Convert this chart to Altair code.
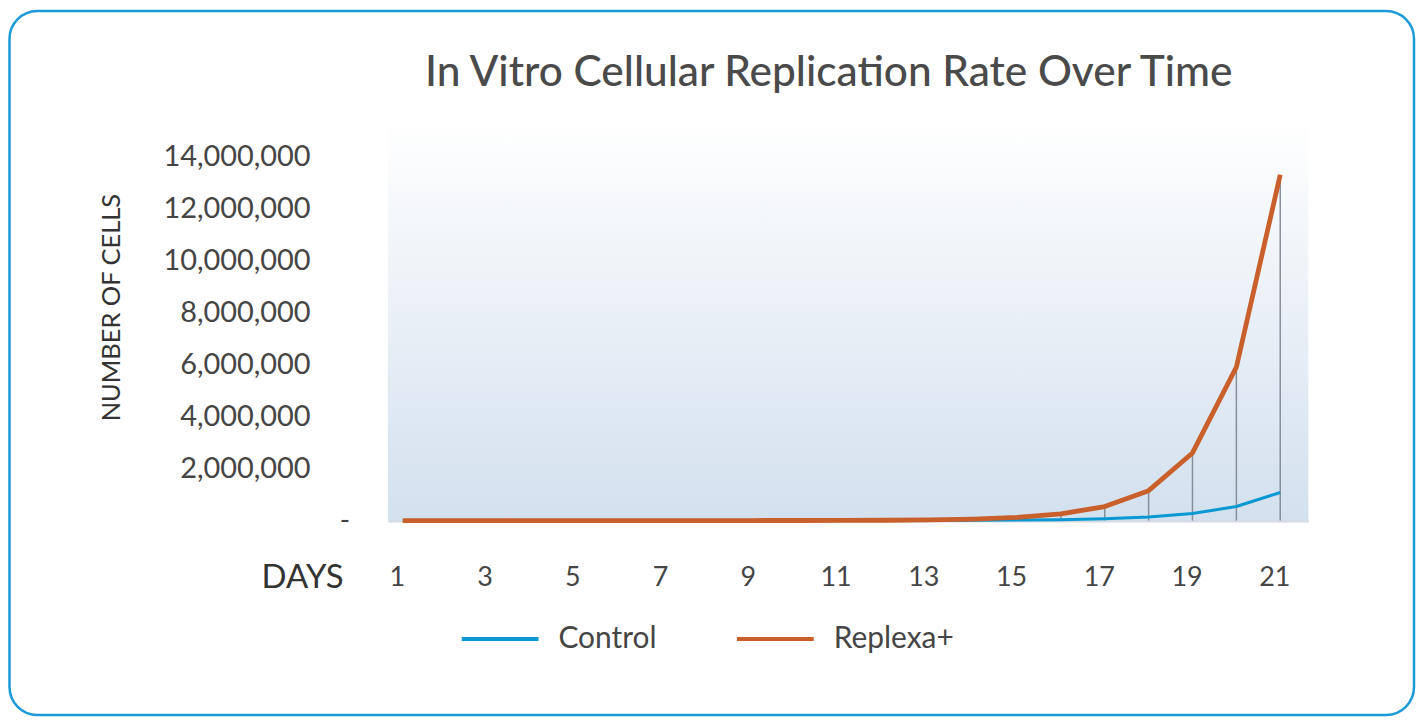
import altair as alt
import pandas as pd

# ---- data ----
days = list(range(1, 22))
control = [1, 2, 4, 8, 16, 33, 65, 130, 260, 520, 1050, 2100, 4200, 8400,
           17000, 34000, 67000, 135000, 270000, 540000, 1080000]
replexa = [2, 5, 10, 22, 48, 105, 230, 500, 1100, 2400, 5200, 11500, 25000,
           55000, 120000, 260000, 540000, 1150000, 2600000, 5900000, 13300000]
series_names = ["Control", "Replexa+"]
series_colors = ["#0a98d2", "#c95f2b"]
y_ticks = [2000000, 4000000, 6000000, 8000000, 10000000, 12000000, 14000000]
x_ticks = [1, 3, 5, 7, 9, 11, 13, 15, 17, 19, 21]
title_text = "In Vitro Cellular Replication Rate Over Time"

FONT = "Lato"
TXT = "#454545"

long_rows = []
for d, c, r in zip(days, control, replexa):
    long_rows.append({"day": d, "series": "Control", "cells": c})
    long_rows.append({"day": d, "series": "Replexa+", "cells": r})
df = pd.DataFrame(long_rows)
wide = pd.DataFrame({"day": days, "control": control, "replexa": replexa})
one = pd.DataFrame({"k": [0]})

W, H = 923, 402
xs = alt.Scale(domain=[0.66, 21.64], nice=False, zero=False)
ys = alt.Scale(domain=[0, 15420000], nice=False)

x_axis = alt.Axis(values=x_ticks, labelOffset=-6, labelPadding=57, labelBaseline="middle",
                  ticks=False, tickSize=0, domain=True, domainColor="#d4dae1", domainWidth=3,
                  grid=False, labelAngle=0, labelFont=FONT, labelFontSize=27, labelColor=TXT,
                  title="DAYS", titleFont=FONT, titleFontSize=33, titleFontWeight="normal",
                  titleColor="#333333", titleX=-45, titleY=57, titleAlign="right",
                  titleBaseline="middle", titleAngle=0)
y_axis = alt.Axis(values=y_ticks, format=",.0f", labelPadding=78, ticks=False, tickSize=0,
                  domain=False, grid=False, labelFont=FONT, labelFontSize=29, labelColor=TXT,
                  title="NUMBER OF CELLS", titleFont=FONT, titleFontSize=25.5,
                  titleFontWeight="normal", titleColor="#333333", titleX=-277, titleY=188,
                  titleAngle=-90, titleAlign="center", titleBaseline="middle")

legend = alt.Legend(orient="none", legendX=72, legendY=480, direction="horizontal", title=None,
                    symbolType="stroke", symbolSize=5929, symbolStrokeWidth=4,
                    labelFont=FONT, labelFontSize=30, labelColor=TXT, labelOffset=18,
                    columnPadding=72)
color = alt.Color("series:N", scale=alt.Scale(domain=series_names, range=series_colors),
                  legend=legend)

bg = alt.Chart(one).mark_rect(
    color=alt.LinearGradient(
        gradient="linear",
        stops=[alt.GradientStop(color="#ffffff", offset=0),
               alt.GradientStop(color="#d3e0ee", offset=1)],
        x1=0, x2=0, y1=0, y2=1)
).encode(x=alt.value(0), x2=alt.value(W), y=alt.value(0), y2=alt.value(H))

drops = alt.Chart(wide).mark_rule(color="#87909a", strokeWidth=1.5).encode(
    x=alt.X("day:Q", scale=xs, axis=x_axis),
    y=alt.Y("replexa:Q", scale=ys, axis=y_axis),
    y2=alt.datum(0),
)

line_c = alt.Chart(df).transform_filter(alt.datum.series == "Control").mark_line(
    strokeWidth=3, strokeJoin="round").encode(
    x=alt.X("day:Q", scale=xs, axis=x_axis),
    y=alt.Y("cells:Q", scale=ys, axis=y_axis),
    color=color,
)
line_r = alt.Chart(df).transform_filter(alt.datum.series == "Replexa+").mark_line(
    strokeWidth=4.8, strokeJoin="round").encode(
    x=alt.X("day:Q", scale=xs, axis=x_axis),
    y=alt.Y("cells:Q", scale=ys, axis=y_axis),
    color=color,
)

zero_lbl = alt.Chart(one).mark_text(font=FONT, fontSize=28, color=TXT, align="center",
                                    baseline="middle").encode(
    x=alt.value(-43), y=alt.datum(0), text=alt.value("-"))

title = alt.Chart(one).mark_text(font=FONT, fontSize=42.5, fontWeight=500, color="#4a4a4a",
                                 align="center", baseline="alphabetic").encode(
    x=alt.value(442), y=alt.value(-34), text=alt.value(title_text))

border = alt.Chart(one).mark_rect(filled=False, stroke="#1a9ad6", strokeWidth=2.5,
                                  cornerRadius=28).encode(
    x=alt.value(-379.5), x2=alt.value(1029), y=alt.value(-109), y2=alt.value(597))

chart = alt.layer(bg, drops, line_c, line_r, zero_lbl, title, border).properties(
    width=W, height=H, padding=0, background="white"
).configure_view(strokeWidth=0)

chart.save("out.html", embed_options={"renderer": "svg", "actions": False})
